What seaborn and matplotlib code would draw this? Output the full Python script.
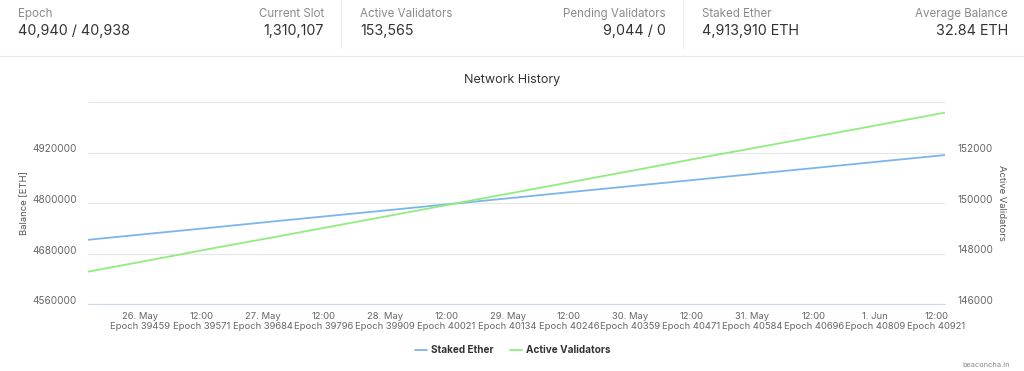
import pandas as pd
import matplotlib
matplotlib.use("Agg")
import matplotlib.pyplot as plt
from matplotlib.lines import Line2D
import seaborn as sns

times = pd.date_range("2021-05-25 13:45", periods=15, freq="12h")
staked_ether = [4712500, 4727000, 4741200, 4755800, 4770100, 4784300, 4798800, 4813100,
                4827700, 4842000, 4856300, 4870800, 4885100, 4899600, 4913900]
active_validators = [147280, 147730, 148190, 148630, 149080, 149530, 149980, 150430,
                     150880, 151330, 151790, 152230, 152680, 153130, 153580]

tick_times = pd.date_range("2021-05-26 00:00", periods=14, freq="12h")
tick_dates = ["26. May", "12:00", "27. May", "12:00", "28. May", "12:00", "29. May",
              "12:00", "30. May", "12:00", "31. May", "12:00", "1. Jun", "12:00"]
tick_epochs = [39459, 39571, 39684, 39796, 39909, 40021, 40134, 40246, 40359, 40471,
               40584, 40696, 40809, 40921]

left_ticks = [4560000, 4680000, 4800000, 4920000, 5040000]
right_ticks = [146000, 148000, 150000, 152000, 154000]

header_labels = ["Epoch", "Current Slot", "Active Validators", "Pending Validators",
                 "Staked Ether", "Average Balance"]
header_values = ["40,940 / 40,938", "1,310,107", "153,565", "9,044 / 0",
                 "4,913,910 ETH", "32.84 ETH"]

sns.set_style("white")
plt.rcParams["font.family"] = ["Inter", "DejaVu Sans"]

W, H = 1024, 371
fig = plt.figure(figsize=(W / 100, H / 100), dpi=100)

def fx(px):
    return px / W

def fy(py):
    return 1 - py / H

# header stats
header_x = [18, 324, 360, 666, 702, 1008]
header_ha = ["left", "right", "left", "right", "left", "right"]
for lab, val, x, ha in zip(header_labels, header_values, header_x, header_ha):
    fig.text(fx(x), fy(14), lab, ha=ha, va="center", fontsize=8.3, color="#8a8a8a")
    fig.text(fx(x), fy(31), val, ha=ha, va="center", fontsize=10.3, color="#333333")
for x in [341, 683]:
    fig.add_artist(Line2D([fx(x), fx(x)], [fy(0), fy(48)], color="#eeeeee", lw=0.8))
fig.add_artist(Line2D([0, 1], [fy(56), fy(56)], color="#e8e8e8", lw=0.8))

# chart
ax = fig.add_axes([fx(88), fy(304), fx(945) - fx(88), fy(102) - fy(304)])
sns.lineplot(x=times, y=staked_ether, ax=ax, color="#7cb5ec", lw=1.3)
ax2 = ax.twinx()
sns.lineplot(x=times, y=active_validators, ax=ax2, color="#90ed7d", lw=1.3)

ax.set_xlim(times[0], times[-1])
ax.set_ylim(left_ticks[0], left_ticks[-1])
ax2.set_ylim(right_ticks[0], right_ticks[-1])

ax.set_xticks(tick_times)
ax.set_xticklabels([f"{d}\nEpoch {e}" for d, e in zip(tick_dates, tick_epochs)],
                   fontsize=6.8, color="#666666", linespacing=1.15)
ax.tick_params(axis="x", length=4, color="#ccd6eb", width=0.8, pad=2)

ax.set_yticks(left_ticks)
ax.set_yticklabels([str(v) for v in left_ticks[:-1]] + [""], fontsize=7.2, color="#666666",
                   va="baseline")
ax.tick_params(axis="y", length=0, pad=8)
ax2.set_yticks(right_ticks)
ax2.set_yticklabels([str(v) for v in right_ticks[:-1]] + [""], fontsize=7.2, color="#666666",
                    va="baseline")
ax2.tick_params(axis="y", length=0, pad=9)

ax.yaxis.grid(True, color="#e6e6e6", lw=0.8)
ax.xaxis.grid(False)
for a in (ax, ax2):
    for s in ["top", "left", "right"]:
        a.spines[s].set_visible(False)
    a.spines["bottom"].set_color("#ccd6eb")
    a.spines["bottom"].set_linewidth(0.8)
ax2.spines["bottom"].set_visible(False)

ax.set_xlabel("")
ax.set_ylabel("Balance [ETH]", fontsize=6.8, color="#555555")
ax2.set_ylabel("Active Validators", fontsize=6.8, color="#555555", rotation=270)
ax.yaxis.set_label_coords(-(88 - 29) / (945 - 88), 0.5)
ax2.yaxis.set_label_coords(1 + (1006 - 945) / (945 - 88), 0.5)

fig.text(0.5, fy(80), "Network History", ha="center", va="center", fontsize=9, color="#333333")

handles = [Line2D([], [], color="#7cb5ec", lw=1.3), Line2D([], [], color="#90ed7d", lw=1.3)]
fig.legend(handles, ["Staked Ether", "Active Validators"], loc="center",
           bbox_to_anchor=(fx(513), fy(350)), ncol=2, frameon=False,
           prop={"size": 7.2, "weight": "bold"}, labelcolor="#333333",
           handlelength=1.2, handletextpad=0.4, columnspacing=1.6)

fig.text(fx(1010), fy(365), "beaconcha.in", ha="right", va="center", fontsize=5.3, color="#888888")

fig.savefig("out.png", dpi=100, facecolor="white")
